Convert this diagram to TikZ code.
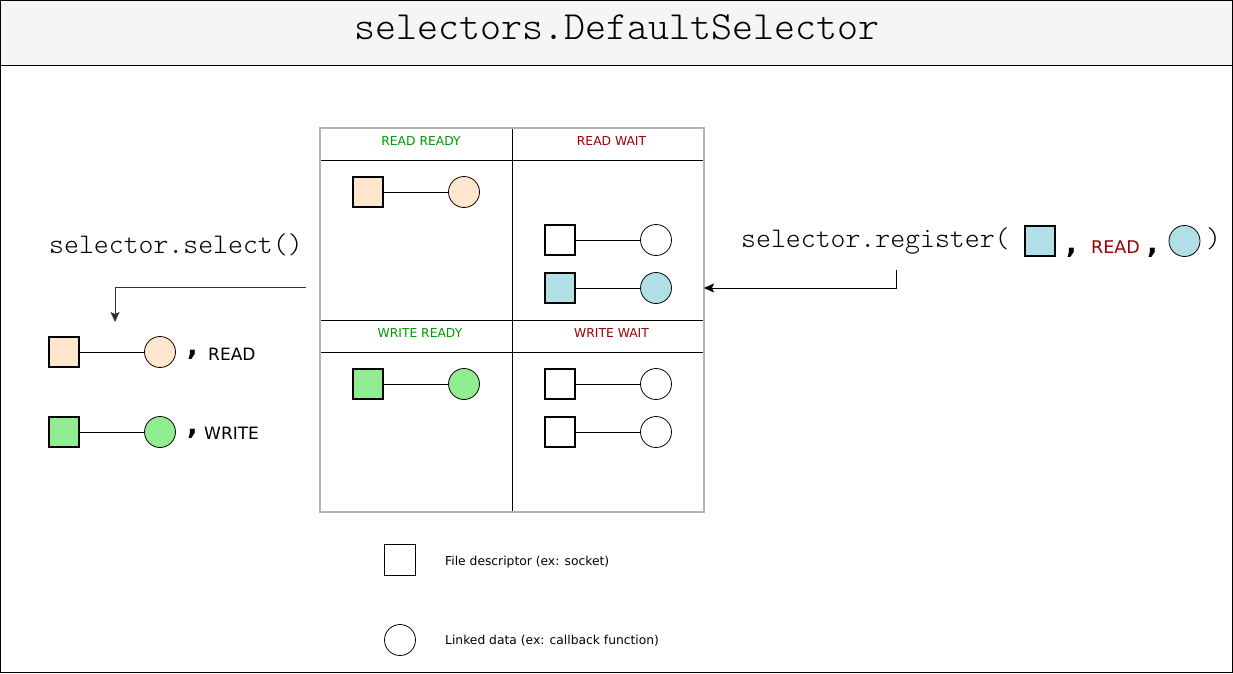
\documentclass[tikz,border=0pt]{standalone}
\usepackage{fontspec}
\setmainfont{DejaVu Sans}
\newfontfamily\monof{Latin Modern Mono Light}
\newfontfamily\boldsans{DejaVu Sans Bold}
\usetikzlibrary{arrows.meta}
\definecolor{peach}{HTML}{FFE6CC}
\definecolor{powder}{HTML}{B0E0E6}
\definecolor{lgreen}{HTML}{90EE90}
\definecolor{hdrgreen}{HTML}{009900}
\definecolor{hdrred}{HTML}{990000}
\definecolor{titlebg}{HTML}{F5F5F5}
\definecolor{gridgray}{HTML}{B3B3B3}
\definecolor{arrgray}{HTML}{333333}
\begin{document}
\begin{tikzpicture}[x=1pt,y=-1pt,
  fd/.style={draw=black, line width=1.6pt, minimum size=30.5pt, inner sep=0pt, fill=white},
  fdthin/.style={draw=black, line width=0.9pt, minimum size=31pt, inner sep=0pt, fill=white},
  ld/.style={draw=black, line width=0.8pt, circle, minimum size=31pt, inner sep=0pt, fill=white},
  link/.style={draw=black, line width=0.9pt},
  hdr/.style={font=\fontsize{12.3}{14}\selectfont, anchor=base, inner sep=0pt},
  code/.style={font=\monof\fontsize{28.4}{30}\selectfont, anchor=base west, inner sep=0pt},
  lbl/.style={font=\fontsize{17}{20}\selectfont, anchor=base west, inner sep=0pt},
  comma/.style={font=\boldsans\fontsize{28}{30}\selectfont, anchor=base west, inner sep=0pt},
  legend/.style={font=\fontsize{12.3}{14}\selectfont, anchor=base west, inner sep=0pt},
  gridline/.style={draw=black, line width=0.9pt},
  arr/.style={line width=0.9pt, -{Stealth[length=10pt,width=9pt,inset=2pt]}}
]
\useasboundingbox (0,0) rectangle (1233,673);
% frame and title band
\fill[titlebg] (0,0) rectangle (1233,65);
\draw[line width=1pt] (0,65) -- (1233,65);
\draw[line width=1pt] (0.5,0.5) rectangle (1232.5,672.5);
\node[font=\monof\fontsize{40}{42}\selectfont, anchor=base, inner sep=0pt] (title) at (617,39) {selectors.DefaultSelector};

% grid
\coordinate (gtl) at (320,128);
\coordinate (gbr) at (704,512);
\coordinate (gmt) at (512,128);
\coordinate (gmb) at (512,512);
\coordinate (h1l) at (320,160); \coordinate (h1r) at (704,160);
\coordinate (h2l) at (320,320); \coordinate (h2r) at (704,320);
\coordinate (h3l) at (320,352); \coordinate (h3r) at (704,352);
\draw[gridline] (gmt) -- (gmb);
\draw[gridline] (h1l) -- (h1r);
\draw[gridline] (h2l) -- (h2r);
\draw[gridline] (h3l) -- (h3r);
\draw[draw=gridgray, line width=2pt] (gtl) rectangle (gbr);

\node[hdr, text=hdrgreen] (hrr) at (421,145.5) {READ READY};
\node[hdr, text=hdrred] (hrw) at (611.5,145.5) {READ WAIT};
\node[hdr, text=hdrgreen] (hwr) at (420,337) {WRITE READY};
\node[hdr, text=hdrred] (hww) at (611.5,337) {WRITE WAIT};

% READ READY
\node[fd, fill=peach] (rrs) at (368,192) {};
\node[ld, fill=peach] (rrc) at (464,192) {};
\draw[link] (rrs) -- (rrc);
% READ WAIT
\node[fd] (rws1) at (560,240) {};
\node[ld] (rwc1) at (656,240) {};
\draw[link] (rws1) -- (rwc1);
\node[fd, fill=powder] (rws2) at (560,288) {};
\node[ld, fill=powder] (rwc2) at (656,288) {};
\draw[link] (rws2) -- (rwc2);
% WRITE READY
\node[fd, fill=lgreen] (wrs) at (368,384) {};
\node[ld, fill=lgreen] (wrc) at (464,384) {};
\draw[link] (wrs) -- (wrc);
% WRITE WAIT
\node[fd] (wws1) at (560,384) {};
\node[ld] (wwc1) at (656,384) {};
\draw[link] (wws1) -- (wwc1);
\node[fd] (wws2) at (560,432) {};
\node[ld] (wwc2) at (656,432) {};
\draw[link] (wws2) -- (wwc2);

% left: select
\node[code] (seltext) at (49,253) {selector.select()};
\coordinate (selstart) at (306,287);
\coordinate (selend) at (115,322);
\draw[arr, draw=arrgray] (selstart) -| (selend);

\node[fd, fill=peach] (ls1) at (64,352) {};
\node[ld, fill=peach] (lc1) at (160,352) {};
\draw[link] (ls1) -- (lc1);
\node[comma] (lcm1) at (187,355) {,};
\node[lbl] (lread) at (208,360) {READ};

\node[fd, fill=lgreen] (ls2) at (64,432) {};
\node[ld, fill=lgreen] (lc2) at (160,432) {};
\draw[link] (ls2) -- (lc2);
\node[comma] (lcm2) at (187,434) {,};
\node[lbl] (lwrite) at (204,439) {WRITE};

% right: register
\node[code] (regtext) at (741,247) {selector.register(};
\node[fd, fill=powder] (regfd) at (1040,241) {};
\node[comma] (rcm1) at (1066,253) {,};
\node[font=\fontsize{17.5}{20}\selectfont, text=hdrred, anchor=base west, inner sep=0pt] (rread) at (1091,253) {READ};
\node[comma] (rcm2) at (1147,253) {,};
\node[ld, fill=powder] (regld) at (1184.5,241) {};
\node[code] (rparen) at (1206,247) {)};
\coordinate (regstart) at (896,270);
\coordinate (regend) at (704,288);
\draw[arr, draw=black] (regstart) |- (regend);

% legend
\node[fdthin] (legfd) at (400,560) {};
\node[legend] (legfdt) at (445,565.5) {File descriptor (ex: socket)};
\node[ld] (legld) at (400,640) {};
\node[legend] (legldt) at (445,644.5) {Linked data (ex: callback function)};
\end{tikzpicture}
\end{document}
